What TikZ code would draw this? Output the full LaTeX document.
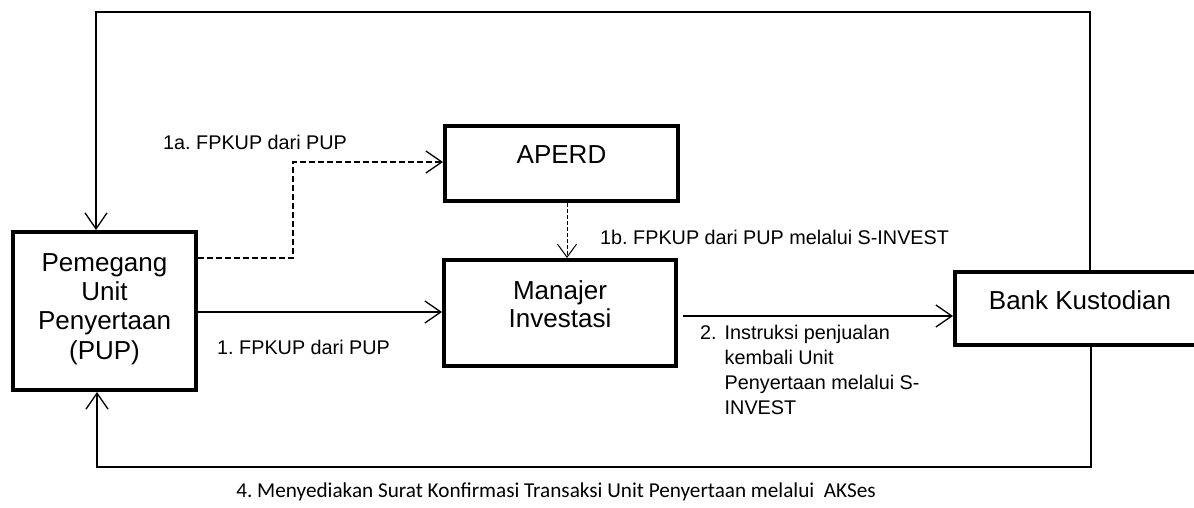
\documentclass[tikz,border=0pt]{standalone}
\usepackage{fontspec}
\setmainfont{Liberation Sans}
\newfontfamily\calfont{Carlito}
\usetikzlibrary{arrows.meta}
\frenchspacing
\begin{document}
\begin{tikzpicture}[x=1pt,y=-1pt,
  box/.style={draw=black, line width=4pt, rectangle, inner sep=0pt},
  boxtext/.style={font=\fontsize{26}{29.3}\selectfont, align=center, inner sep=0pt},
  lbl/.style={font=\fontsize{19.8}{25}\selectfont, inner sep=0pt},
  conn/.style={line width=1.3pt, -{Straight Barb[length=16pt,width=22pt,line width=1.3pt]}},
  dashconn/.style={line width=1.3pt, dash pattern=on 6pt off 3pt, -{Straight Barb[length=16pt,width=22pt,line width=1.3pt]}},
  thindash/.style={line width=0.8pt, dash pattern=on 4pt off 2pt, -{Straight Barb[length=13pt,width=19pt,line width=1pt]}}
]
\useasboundingbox[fill=white] (0,0) rectangle (1194,508);

% boxes
\node[box, minimum width=183pt, minimum height=158pt] (pup) at (104.5,311) {};
\node[boxtext] (puptext) at (104.5,309) {Pemegang\\Unit\\Penyertaan\\(PUP)};
\node[box, minimum width=233pt, minimum height=75pt] (aperd) at (561.5,163.5) {};
\node[boxtext] (aperdtext) at (561.5,155) {APERD};
\node[box, minimum width=232pt, minimum height=106pt] (mi) at (560,313) {};
\node[boxtext, font=\fontsize{26}{28}\selectfont] (mitext) at (560,304) {Manajer\\Investasi};
\node[box, minimum width=250pt, minimum height=73pt] (bank) at (1080,308.5) {};
\node[boxtext] (banktext) at (1080,300) {Bank Kustodian};

% helper coordinates
\coordinate (tr) at (1090,12);
\coordinate (tl) at (96,12);
\coordinate (br) at (1091,467);
\coordinate (bl) at (97,467);
\coordinate (a1) at (293,258);
\coordinate (a2) at (293,162);

% outer loop top
\draw[conn] (tr |- bank.north) -- (tr) -- (tl) -- (tl |- pup.north);
% outer loop bottom
\draw[conn] (br |- bank.south) -- (br) -- (bl) -- (bl |- pup.south);

% 1a dashed
\draw[dashconn] (pup.east |- a1) -- (a1) -- (a2) -- (a2 -| aperd.west);
% 1b dashed
\draw[thindash] ([xshift=5.5pt]aperd.south) -- ([xshift=5.5pt]aperd.south |- mi.north);
% 1
\draw[conn] ([yshift=-1pt]pup.east) -- ([yshift=-1pt]pup.east -| mi.west);
% 2
\draw[conn] ([yshift=-3pt,xshift=5pt]mi.east) -- ([yshift=-3pt]mi.east -| bank.west);

% labels
\node[lbl, anchor=west] (l1a) at (163,142) {1a. FPKUP dari PUP};
\node[lbl, anchor=west] (l1b) at (600,237) {1b. FPKUP dari PUP melalui S-INVEST};
\node[lbl, anchor=west] (l1) at (217,347) {1. FPKUP dari PUP};
\node[lbl, anchor=north west] (l2) at (700,322) {\begin{tabular}{@{}l@{\hspace{8pt}}l@{}}2. & Instruksi penjualan\\ & kembali Unit\\ & Penyertaan melalui S-\\ & INVEST\end{tabular}};
\node[inner sep=0pt, font=\calfont\fontsize{21.2}{24}\selectfont] (l4) at (556,492) {4. Menyediakan Surat Konfirmasi Transaksi Unit Penyertaan melalui\ \ AKSes};
\end{tikzpicture}
\end{document}
